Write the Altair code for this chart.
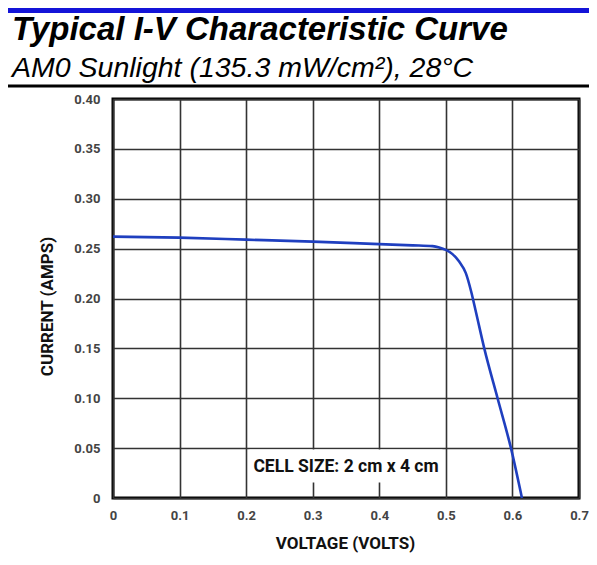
import altair as alt
import pandas as pd

# I-V curve
voltage = [0.0, 0.1, 0.2, 0.3, 0.4, 0.45, 0.48, 0.49, 0.50, 0.51, 0.52, 0.53, 0.538, 0.545, 0.5577, 0.5777, 0.5978, 0.6143]
current = [0.262, 0.261, 0.259, 0.257, 0.2545, 0.2533, 0.2525, 0.2512, 0.2487, 0.2445, 0.237, 0.2254, 0.207, 0.187, 0.150, 0.100, 0.050, 0.0]

x_ticks = [0.0, 0.1, 0.2, 0.3, 0.4, 0.5, 0.6, 0.7]
y_ticks = [0.0, 0.05, 0.10, 0.15, 0.20, 0.25, 0.30, 0.35, 0.40]

note_text = ["CELL SIZE: 2 cm x 4 cm"]
note_v = [0.35]
note_i = [0.0315]
box_v = [0.205, 0.495]
box_i = [0.0155, 0.0485]

title_text = ["Typical I-V Characteristic Curve"]
subtitle_text = ["AM0 Sunlight (135.3 mW/cm\u00b2), 28\u00b0C"]

COND = "Roboto"

curve = pd.DataFrame({"V": voltage, "I": current})
note = pd.DataFrame({"V": note_v, "I": note_i, "t": note_text})
box = pd.DataFrame({"v1": [box_v[0]], "v2": [box_v[1]], "i1": [box_i[0]], "i2": [box_i[1]]})
one = pd.DataFrame({"a": [0]})
ttl = pd.DataFrame({"t": title_text})
sub = pd.DataFrame({"t": subtitle_text})

xscale = alt.Scale(domain=[0, 0.7], nice=False)
yscale = alt.Scale(domain=[0, 0.4], nice=False)


def x_axis():
    return alt.Axis(
        values=x_ticks, title="VOLTAGE (VOLTS)", grid=True, ticks=False, domain=False,
        labelExpr="datum.value == 0 ? '0' : format(datum.value, '.1f')",
        labelFont=COND, labelFontWeight="bold", labelFontSize=13, labelColor="#444",
        labelPadding=11, labelFlush=False,
        titleFont=COND, titleFontWeight="bold", titleFontSize=17, titleColor="#111",
        titleX=232, titleY=45, titleBaseline="middle", titleAnchor="middle",
    )


def y_axis():
    return alt.Axis(
        values=y_ticks, title="CURRENT (AMPS)", grid=True, ticks=False, domain=False,
        labelExpr="datum.value == 0 ? '0' : format(datum.value, '.2f')",
        labelFont=COND, labelFontWeight="bold", labelFontSize=13, labelColor="#444",
        labelPadding=13, labelFlush=False,
        titleFont=COND, titleFontWeight="bold", titleFontSize=17, titleColor="#111",
        titleX=-66, titleY=207, titleBaseline="middle", titleAnchor="middle", titleAngle=270,
    )


line = alt.Chart(curve).mark_line(color="#1f3fbf", strokeWidth=2.6, interpolate="monotone").encode(
    x=alt.X("V:Q", scale=xscale, axis=x_axis()),
    y=alt.Y("I:Q", scale=yscale, axis=y_axis()),
)

cover = alt.Chart(box).mark_rect(color="white").encode(
    x=alt.X("v1:Q", scale=xscale, axis=x_axis()), x2="v2:Q",
    y=alt.Y("i1:Q", scale=yscale, axis=y_axis()), y2="i2:Q",
)

label = alt.Chart(note).mark_text(font=COND, fontWeight="bold", fontSize=17.5, color="#111").encode(
    x=alt.X("V:Q", scale=xscale, axis=x_axis()),
    y=alt.Y("I:Q", scale=yscale, axis=y_axis()), text="t:N"
)

title_mark = alt.Chart(ttl).mark_text(
    font="Liberation Sans", fontSize=33, fontStyle="italic", fontWeight="bold",
    color="black", align="left", baseline="alphabetic",
).encode(x=alt.value(-101), y=alt.value(-59), text="t:N")
subtitle_mark = alt.Chart(sub).mark_text(
    font="Liberation Sans", fontSize=28.5, fontStyle="italic", fontWeight="normal",
    color="black", align="left", baseline="alphabetic",
).encode(x=alt.value(-101), y=alt.value(-22), text="t:N")

blue_bar = alt.Chart(one).mark_rect(color="#1414d8").encode(
    x=alt.value(-105), x2=alt.value(476), y=alt.value(-91), y2=alt.value(-86)
)
black_rule = alt.Chart(one).mark_rule(color="black", strokeWidth=3).encode(
    x=alt.value(-105), x2=alt.value(476), y=alt.value(-13)
)

chart = alt.layer(cover, label, line, blue_bar, black_rule, title_mark, subtitle_mark).properties(
    width=466, height=399,
    padding={"left": 105, "top": 91, "right": 10, "bottom": 59},
    autosize=alt.AutoSizeParams(type="none"),
).configure_view(stroke="black", strokeWidth=3).configure_axis(
    gridColor="#333", gridWidth=1.6, gridOpacity=1,
    labelFont=COND, labelFontWeight="bold", labelFontSize=13, labelColor="#444",
)

chart.save("out.html", embed_options={"renderer": "svg", "actions": False})
